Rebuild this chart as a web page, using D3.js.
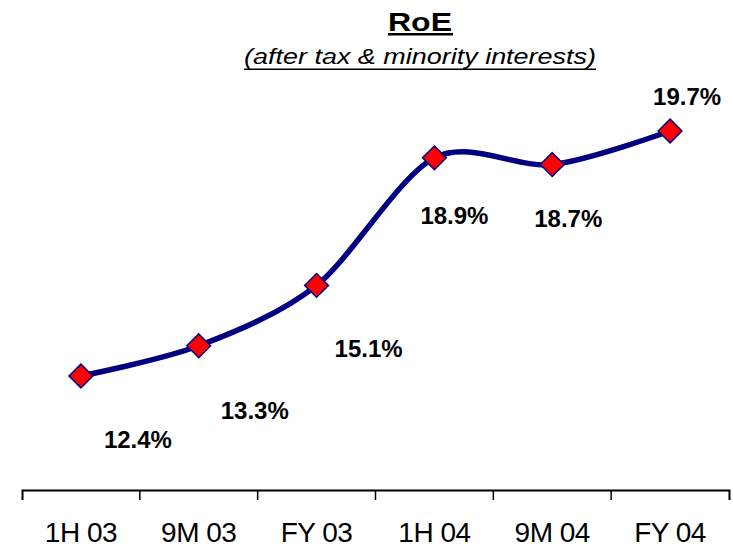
<!DOCTYPE html>
<html>
<head>
<meta charset="utf-8">
<script src="https://cdn.jsdelivr.net/npm/d3@7"></script>
<style>
    body { margin: 0; background: #fff; }
    svg text { font-family: Arial, "Liberation Sans", sans-serif; }
</style>
</head>
<body>
<script>
const periods = ['1H 03', '9M 03', 'FY 03', '1H 04', '9M 04', 'FY 04'];
const roe = [12.4, 13.3, 15.1, 18.9, 18.7, 19.7];
// label offsets from each marker (dx, dy to baseline)
const labelDx = [57, 56, 52, 20, 16, 17];
const labelDy = [72, 73, 72, 66, 62, -26];

const outerW = 733,
    outerH = 548;

const svg = d3.select('body').append('svg')
    .attr('width', outerW)
    .attr('height', outerH);

const axisY = 490;

const x = d3.scaleBand().domain(periods).range([22, 729]);
const y = d3.scaleLinear().domain(d3.extent(roe)).range([376, 131]);

const data = periods.map((p, i) => ({ p, v: roe[i], dx: labelDx[i], dy: labelDy[i] }));
const cx = d => x(d.p) + x.bandwidth() / 2;

// title
svg.append('text')
    .attr('x', 420).attr('y', 31)
    .attr('text-anchor', 'middle')
    .attr('font-size', 26).attr('font-weight', 'bold')
    .attr('textLength', 64).attr('lengthAdjust', 'spacingAndGlyphs')
    .text('RoE');
svg.append('rect').attr('x', 388).attr('y', 33).attr('width', 65).attr('height', 2.5);

svg.append('text')
    .attr('x', 420).attr('y', 64)
    .attr('text-anchor', 'middle')
    .attr('font-size', 22).attr('font-style', 'italic')
    .attr('textLength', 352).attr('lengthAdjust', 'spacingAndGlyphs')
    .text('(after tax & minority interests)');
svg.append('rect').attr('x', 244).attr('y', 68.5).attr('width', 352).attr('height', 1.5);

// axis
const xAxis = svg.append('g')
    .attr('transform', `translate(0, ${axisY})`)
    .call(d3.axisBottom(x)
        .tickSize(0)
        .tickSizeOuter(10)
        .tickPadding(32)
    );
xAxis.select('.domain').attr('stroke', '#000').attr('stroke-width', 2);
xAxis.selectAll('text')
    .attr('font-size', 28)
    .attr('fill', '#000')
    .attr('letter-spacing', -0.5);

xAxis.selectAll('.sep')
    .data(periods.slice(1))
    .enter()
    .append('line')
    .attr('class', 'sep')
    .attr('x1', d => x(d)).attr('x2', d => x(d))
    .attr('y1', 0).attr('y2', 10)
    .attr('stroke', '#000').attr('stroke-width', 1.5);

// line
const line = d3.line()
    .x(cx)
    .y(d => y(d.v))
    .curve(d3.curveCardinal.tension(0.1));

svg.append('path')
    .datum(data)
    .attr('d', line)
    .attr('fill', 'none')
    .attr('stroke', '#000080')
    .attr('stroke-width', 5.5);

// markers
svg.selectAll('.pt')
    .data(data)
    .enter()
    .append('path')
    .attr('class', 'pt')
    .attr('d', d3.symbol(d3.symbolDiamond2, 360)())
    .attr('transform', d => `translate(${cx(d)}, ${y(d.v)})`)
    .attr('fill', '#ff0000')
    .attr('stroke', '#000080')
    .attr('stroke-width', 1.5);

// labels
svg.selectAll('.lbl')
    .data(data)
    .enter()
    .append('text')
    .attr('class', 'lbl')
    .attr('x', d => cx(d) + d.dx)
    .attr('y', d => y(d.v) + d.dy)
    .attr('text-anchor', 'middle')
    .attr('font-size', 24)
    .attr('font-weight', 'bold')
    .text(d => d.v.toFixed(1) + '%');
</script>
</body>
</html>
